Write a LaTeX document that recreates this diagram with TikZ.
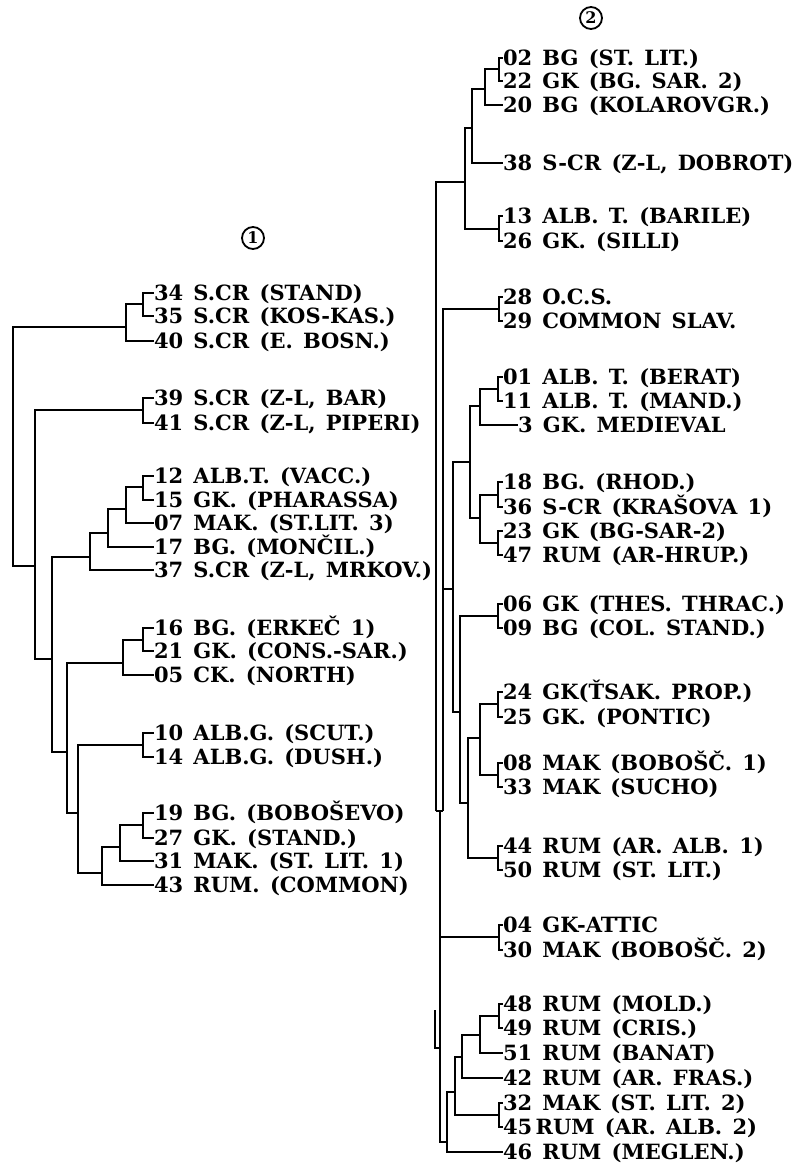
\documentclass[tikz,border=0pt]{standalone}
\usepackage{fontspec}
\setmainfont{DejaVu Serif}[WordSpace=1.4]
\newcommand\LabFont{\fontsize{21}{24}\selectfont\bfseries}
\begin{document}
\begin{tikzpicture}[x=1pt,y=-1pt,
  lab/.style={anchor=west,inner sep=0pt,outer sep=0pt,text height=15pt,text depth=0pt,font=\LabFont},
  ln/.style={line width=1.7pt},
  circ/.style={draw,circle,line width=1.8pt,inner sep=2pt,minimum size=22pt,font=\fontsize{16}{16}\selectfont\bfseries}]
\useasboundingbox (0,0) rectangle (804,1171);

% ---------------- circled numbers
\node[circ] (cone) at (253,238) {1};
\node[circ] (ctwo) at (591,18) {2};

% ---------------- left cluster leaves
\node[lab] (l34) at (154,293) {34 S.CR (STAND)};
\node[lab] (l35) at (154,316) {35 S.CR (KOS-KAS.)};
\node[lab] (l40) at (154,341) {40 S.CR (E. BOSN.)};
\node[lab] (l39) at (154,398) {39 S.CR (Z-L,\ BAR)};
\node[lab] (l41) at (154,423) {41 S.CR (Z-L,\ PIPERI)};
\node[lab] (l12) at (154,476) {12 ALB.T. (VACC.)};
\node[lab] (l15) at (154,500) {15 GK. (PHARASSA)};
\node[lab] (l07) at (154,523) {07 MAK. (ST.LIT. 3)};
\node[lab] (l17) at (154,547) {17 BG. (MONČIL.)};
\node[lab] (l37) at (154,570) {37 S.CR (Z-L,\ MRKOV.)};
\node[lab] (l16) at (154,628) {16 BG. (ERKEČ 1)};
\node[lab] (l21) at (154,651) {21 GK. (CONS.-SAR.)};
\node[lab] (l05) at (154,675) {05 CK. (NORTH)};
\node[lab] (l10) at (154,733) {10 ALB.G. (SCUT.)};
\node[lab] (l14) at (154,757) {14 ALB.G. (DUSH.)};
\node[lab] (l19) at (154,813) {19 BG. (BOBOŠEVO)};
\node[lab] (l27) at (154,838) {27 GK. (STAND.)};
\node[lab] (l31) at (154,861) {31 MAK. (ST. LIT. 1)};
\node[lab] (l43) at (154,885) {43 RUM. (COMMON)};

% left cluster internal points
\coordinate (a1) at (143,304);
\coordinate (a2) at (126,327);
\coordinate (a3) at (143,410);
\coordinate (c1) at (143,487);
\coordinate (c2) at (126,509);
\coordinate (c3) at (108,533);
\coordinate (c4) at (90,557);
\coordinate (f1) at (143,640);
\coordinate (f2) at (123,663);
\coordinate (h1) at (143,745);
\coordinate (j1) at (143,825);
\coordinate (j2) at (120,847);
\coordinate (i1) at (102,873);
\coordinate (g1) at (78,813);
\coordinate (e1) at (67,752);
\coordinate (d1) at (52,659);
\coordinate (b1) at (35,566);
\coordinate (r1) at (13,450);

\draw[ln] (a1) |- (l34.west); \draw[ln] (a1) |- (l35.west);
\draw[ln] (a2) |- (a1); \draw[ln] (a2) |- (l40.west);
\draw[ln] (a3) |- (l39.west); \draw[ln] (a3) |- (l41.west);
\draw[ln] (c1) |- (l12.west); \draw[ln] (c1) |- (l15.west);
\draw[ln] (c2) |- (c1); \draw[ln] (c2) |- (l07.west);
\draw[ln] (c3) |- (c2); \draw[ln] (c3) |- (l17.west);
\draw[ln] (c4) |- (c3); \draw[ln] (c4) |- (l37.west);
\draw[ln] (f1) |- (l16.west); \draw[ln] (f1) |- (l21.west);
\draw[ln] (f2) |- (f1); \draw[ln] (f2) |- (l05.west);
\draw[ln] (h1) |- (l10.west); \draw[ln] (h1) |- (l14.west);
\draw[ln] (j1) |- (l19.west); \draw[ln] (j1) |- (l27.west);
\draw[ln] (j2) |- (j1); \draw[ln] (j2) |- (l31.west);
\draw[ln] (i1) |- (j2); \draw[ln] (i1) |- (l43.west);
\draw[ln] (g1) |- (h1); \draw[ln] (g1) |- (i1);
\draw[ln] (e1) |- (f2); \draw[ln] (e1) |- (g1);
\draw[ln] (d1) |- (c4); \draw[ln] (d1) |- (e1);
\draw[ln] (b1) |- (a3); \draw[ln] (b1) |- (d1);
\draw[ln] (r1) |- (a2); \draw[ln] (r1) |- (b1);

% ---------------- right cluster leaves
\node[lab] (r02) at (503,58) {02 BG (ST. LIT.)};
\node[lab] (r22) at (503,81) {22 GK (BG. SAR. 2)};
\node[lab] (r20) at (503,105) {20 BG (KOLAROVGR.)};
\node[lab] (r38) at (503,163) {38 S-CR (Z-L,\ DOBROT)};
\node[lab] (r13) at (503,216) {13 ALB. T. (BARILE)};
\node[lab] (r26) at (503,241) {26 GK. (SILLI)};
\node[lab] (r28) at (503,297) {28 O.C.S.};
\node[lab] (r29) at (503,321) {29 COMMON SLAV.};
\node[lab] (r01) at (503,377) {01 ALB. T. (BERAT)};
\node[lab] (r11) at (503,401) {11 ALB. T. (MAND.)};
\node[lab] (r3)  at (518,425) {3 GK. MEDIEVAL};
\node[lab] (r18) at (503,482) {18 BG. (RHOD.)};
\node[lab] (r36) at (503,507) {36 S-CR (KRAŠOVA 1)};
\node[lab] (r23) at (503,531) {23 GK (BG-SAR-2)};
\node[lab] (r47) at (503,555) {47 RUM (AR-HRUP.)};
\node[lab] (r06) at (503,604) {06 GK (THES.\ THRAC.)};
\node[lab] (r09) at (503,628) {09 BG (COL. STAND.)};
\node[lab] (r24) at (503,692) {24 GK(ŤSAK. PROP.)};
\node[lab] (r25) at (503,717) {25 GK. (PONTIC)};
\node[lab] (r08) at (503,763) {08 MAK (BOBOŠČ. 1)};
\node[lab] (r33) at (503,787) {33 MAK (SUCHO)};
\node[lab] (r44) at (503,846) {44 RUM (AR. ALB. 1)};
\node[lab] (r50) at (503,870) {50 RUM (ST. LIT.)};
\node[lab] (r04) at (503,925) {04 GK-ATTIC};
\node[lab] (r30) at (503,950) {30 MAK (BOBOŠČ. 2)};
\node[lab] (r48) at (503,1004) {48 RUM (MOLD.)};
\node[lab] (r49) at (503,1028) {49 RUM (CRIS.)};
\node[lab] (r51) at (503,1053) {51 RUM (BANAT)};
\node[lab] (r42) at (503,1078) {42 RUM (AR. FRAS.)};
\node[lab] (r32) at (503,1103) {32 MAK (ST. LIT. 2)};
\node[lab] (r45) at (503,1127) {45\,RUM (AR. ALB. 2)};
\node[lab] (r46) at (503,1152) {46 RUM (MEGLEN.)};

% right cluster internal points
\coordinate (n1) at (499,69);
\coordinate (n2) at (485,89);
\coordinate (n3) at (472,128);
\coordinate (n5) at (499,229);
\coordinate (n4) at (465,182);
\coordinate (m1) at (499,309);
\coordinate (p1) at (498,389);
\coordinate (p2) at (480,406);
\coordinate (p3) at (498,495);
\coordinate (p4) at (498,543);
\coordinate (p5) at (480,518);
\coordinate (p6) at (470,462);
\coordinate (q1) at (498,616);
\coordinate (q2) at (498,704);
\coordinate (q3) at (498,775);
\coordinate (q4) at (480,738);
\coordinate (q5) at (498,858);
\coordinate (q6) at (468,803);
\coordinate (q7) at (460,712);
\coordinate (rr) at (453,589);
\coordinate (s1) at (443,811);
\coordinate (t1) at (436,811);
\coordinate (t3) at (440,811);
\coordinate (k1) at (499,937);
\coordinate (u1) at (499,1016);
\coordinate (u2) at (480,1035);
\coordinate (u3) at (462,1057);
\coordinate (u4) at (499,1115);
\coordinate (u5) at (455,1092);
\coordinate (u6) at (447,1142);
\coordinate (v1) at (435,1010);
\coordinate (v2) at (440,1048);

\draw[ln] (n1) |- (r02.west); \draw[ln] (n1) |- (r22.west);
\draw[ln] (n2) |- (n1); \draw[ln] (n2) |- (r20.west);
\draw[ln] (n3) |- (n2); \draw[ln] (n3) |- (r38.west);
\draw[ln] (n5) |- (r13.west); \draw[ln] (n5) |- (r26.west);
\draw[ln] (n4) |- (n3); \draw[ln] (n4) |- (n5);
\draw[ln] (m1) |- (r28.west); \draw[ln] (m1) |- (r29.west);
\draw[ln] (p1) |- (r01.west); \draw[ln] (p1) |- (r11.west);
\draw[ln] (p2) |- (p1); \draw[ln] (p2) |- (r3.west);
\draw[ln] (p3) |- (r18.west); \draw[ln] (p3) |- (r36.west);
\draw[ln] (p4) |- (r23.west); \draw[ln] (p4) |- (r47.west);
\draw[ln] (p5) |- (p3); \draw[ln] (p5) |- (p4);
\draw[ln] (p6) |- (p2); \draw[ln] (p6) |- (p5);
\draw[ln] (q1) |- (r06.west); \draw[ln] (q1) |- (r09.west);
\draw[ln] (q2) |- (r24.west); \draw[ln] (q2) |- (r25.west);
\draw[ln] (q3) |- (r08.west); \draw[ln] (q3) |- (r33.west);
\draw[ln] (q4) |- (q2); \draw[ln] (q4) |- (q3);
\draw[ln] (q5) |- (r44.west); \draw[ln] (q5) |- (r50.west);
\draw[ln] (q6) |- (q4); \draw[ln] (q6) |- (q5);
\draw[ln] (q7) |- (q1); \draw[ln] (q7) |- (q6);
\draw[ln] (rr) |- (p6); \draw[ln] (rr) |- (q7);
\draw[ln] (s1) |- (m1); \draw[ln] (s1) |- (rr);
\draw[ln] (t1) |- (n4); \draw[ln] (t1) -- (s1);
\draw[ln] (k1) |- (r04.west); \draw[ln] (k1) |- (r30.west);
\draw[ln] (u1) |- (r48.west); \draw[ln] (u1) |- (r49.west);
\draw[ln] (u2) |- (u1); \draw[ln] (u2) |- (r51.west);
\draw[ln] (u3) |- (u2); \draw[ln] (u3) |- (r42.west);
\draw[ln] (u4) |- (r32.west); \draw[ln] (u4) |- (r45.west);
\draw[ln] (u5) |- (u3); \draw[ln] (u5) |- (u4);
\draw[ln] (u6) |- (u5); \draw[ln] (u6) |- (r46.west);
\draw[ln] (t3) |- (k1); \draw[ln] (t3) |- (u6);
\draw[ln] (v1) |- (v2);
\end{tikzpicture}
\end{document}
